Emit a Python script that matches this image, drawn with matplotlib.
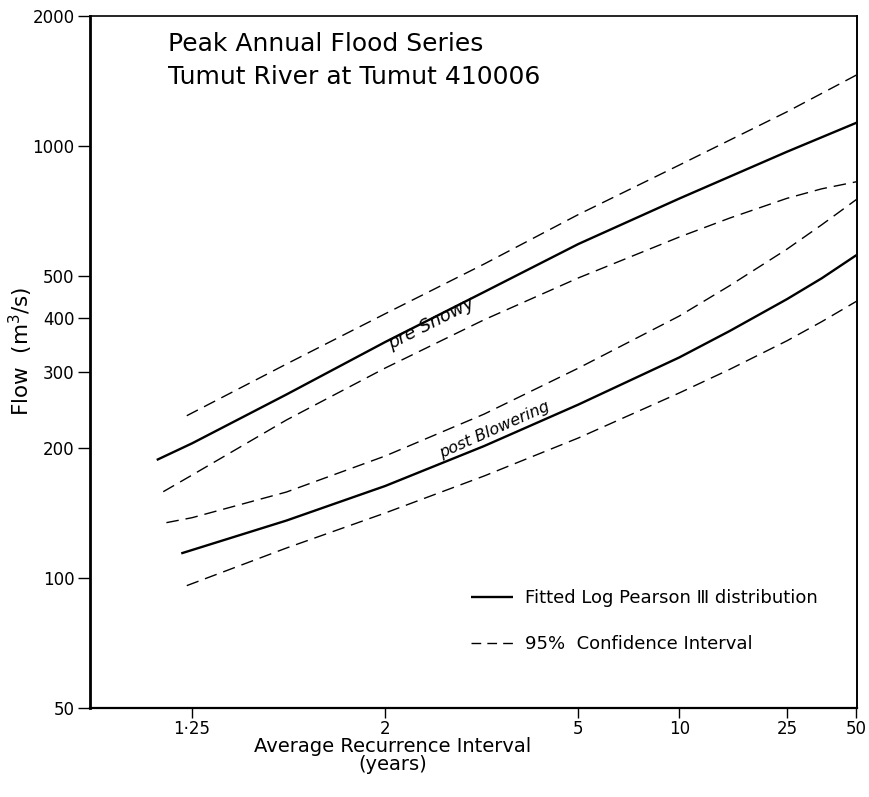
import numpy as np
import matplotlib
matplotlib.use("Agg")
import matplotlib.pyplot as plt
from matplotlib.lines import Line2D
from statistics import NormalDist

# recurrence interval (years) and flow (m3/s)
pre_fit_T = [1.19, 1.25, 1.5, 2, 3, 5, 10, 25, 50]
pre_fit_Q = [187.6, 205.0, 265.9, 351.8, 459.2, 593.1, 755.7, 969.8, 1132]

pre_hi_T = [1.24, 1.5, 2, 3, 5, 10, 25, 50]
pre_hi_Q = [237.5, 312.8, 409.0, 533.0, 694.0, 903.4, 1200, 1460]

pre_lo_T = [1.20, 1.25, 1.5, 2, 3, 5, 10, 15, 25, 35, 50]
pre_lo_Q = [158.4, 173.1, 232.1, 306.2, 396.0, 495.0, 615.6, 681.0, 756.6, 796.0, 826.6]

post_fit_T = [1.23, 1.5, 2, 3, 5, 10, 15, 25, 35, 50]
post_fit_Q = [114.0, 135.8, 163.3, 202.0, 252.0, 324.0, 373.0, 442.0, 494.0, 559.0]

post_hi_T = [1.205, 1.25, 1.5, 2, 3, 5, 10, 15, 25, 35, 50]
post_hi_Q = [134.3, 137.9, 158.1, 191.6, 239.5, 306.0, 404.0, 475.0, 577.0, 657.0, 752.0]

post_lo_T = [1.24, 1.5, 2, 3, 5, 10, 15, 25, 35, 50]
post_lo_Q = [96.0, 117.3, 141.4, 172.2, 210.9, 268.1, 304.0, 354.0, 392.0, 437.0]

x_ticks = [1.25, 2, 5, 10, 25, 50]
x_ticklabels = ["1·25", "2", "5", "10", "25", "50"]
y_ticks = [50, 100, 200, 300, 400, 500, 1000, 2000]

# normal probability scale for recurrence interval
_nd = NormalDist()
_ppf = np.vectorize(_nd.inv_cdf, otypes=[float])
_cdf = np.vectorize(_nd.cdf, otypes=[float])

def to_z(t):
    t = np.clip(np.asarray(t, float), 1.0001, 1e6)
    p = np.clip(1 - 1 / t, 1e-9, 1 - 1e-9)
    return _ppf(p)

def from_z(z):
    z = np.clip(np.asarray(z, float), -6, 6)
    return 1 / (1 - _cdf(z))

fig = plt.figure(figsize=(8.7, 7.97), dpi=100)
ax = fig.add_axes([90 / 870, 1 - 708 / 797, 767 / 870, 692 / 797])
ax.set_xscale("function", functions=(to_z, from_z))
ax.set_yscale("log")
ax.set_xlim(1.11, 50.3)
ax.set_ylim(50, 2000)

solid = dict(color="black", lw=1.7, solid_capstyle="butt")
dash = dict(color="black", lw=1.0, linestyle=(0, (9, 5)))

ax.plot(pre_fit_T, pre_fit_Q, **solid)
ax.plot(pre_hi_T, pre_hi_Q, **dash)
ax.plot(pre_lo_T, pre_lo_Q, **dash)
ax.plot(post_fit_T, post_fit_Q, **solid)
ax.plot(post_hi_T, post_hi_Q, **dash)
ax.plot(post_lo_T, post_lo_Q, **dash)

ax.set_xticks(x_ticks)
ax.set_xticklabels(x_ticklabels)
ax.set_yticks(y_ticks)
ax.set_yticklabels([str(v) for v in y_ticks])
ax.xaxis.set_minor_locator(matplotlib.ticker.NullLocator())
ax.yaxis.set_minor_locator(matplotlib.ticker.NullLocator())
ax.tick_params(axis="y", direction="out", length=9, width=1.0, labelsize=12, pad=2)
ax.tick_params(axis="x", direction="out", length=7, width=1.0, labelsize=12, pad=2)

ax.spines["left"].set_linewidth(2.0)
ax.spines["bottom"].set_linewidth(1.6)
ax.spines["top"].set_linewidth(1.2)
ax.spines["right"].set_linewidth(1.4)

ax.set_ylabel("Flow  (m$^3$/s)", fontsize=15.5)
ax.yaxis.set_label_coords(-0.072, 0.516)

ax.set_xlabel("Average Recurrence Interval\n(years)", fontsize=14,
              linespacing=0.95)
ax.xaxis.set_label_coords(0.395, -0.042)
ax.xaxis.label.set_va("top")

ax.text(0.102, 0.977, "Peak Annual Flood Series\nTumut River at Tumut 410006",
        transform=ax.transAxes, fontsize=18, va="top", ha="left",
        linespacing=1.5)

ax.text(2.42, 372, "pre Snowy", fontsize=13, style="italic", rotation=27,
        ha="center", va="bottom", rotation_mode="anchor")
ax.text(3.2, 212, "post Blowering", fontsize=11.5, style="italic", rotation=24,
        ha="center", va="bottom", rotation_mode="anchor")

# legend dashes drawn a bit finer so the short handle shows three dashes
handles = [Line2D([], [], **solid),
           Line2D([], [], color="black", lw=1.0, linestyle=(0, (7, 4.4)))]
labels = ["Fitted Log Pearson Ⅲ distribution", "95%  Confidence Interval"]
ax.legend(handles, labels, loc="upper left", bbox_to_anchor=(0.497, 0.172),
          frameon=False, fontsize=13, handlelength=2.3, handletextpad=0.7,
          labelspacing=1.55, borderpad=0, borderaxespad=0)

fig.savefig("out.png", dpi=100)
